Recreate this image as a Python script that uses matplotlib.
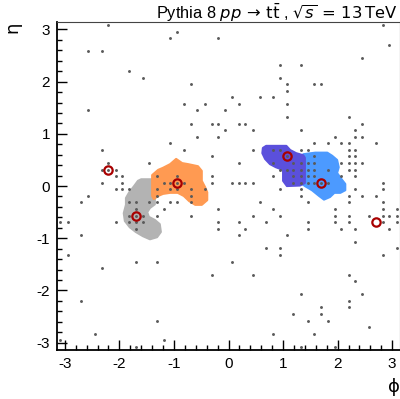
import matplotlib
matplotlib.use("Agg")
import matplotlib.pyplot as plt
from matplotlib.patches import Polygon
from matplotlib.ticker import MultipleLocator

plt.rcParams["font.family"] = ["Liberation Sans", "DejaVu Sans"]
plt.rcParams["axes.unicode_minus"] = False
plt.rcParams["mathtext.fontset"] = "dejavusans"

# particles (phi, eta), grouped by eta row
particle_phi = [
    -2.20, 2.83,
    -0.94,
    -1.07, -0.19,
    2.95,
    -2.58, -2.32,
    2.45,
    0.94, 1.32,
    -1.82,
    -1.57, 0.94,
    -0.69, 1.07, 1.57, 1.70,
    1.07,
    0.06, 0.57, 0.82,
    -0.82, -0.44, 0.19, 1.07,
    -2.58, -0.57, -0.06,
    1.07, 2.20,
    -0.69, -0.31, -0.19, 0.19, 0.31, 2.45,
    -0.06, 0.44, 1.32, 2.32,
    -0.57, -0.19, 1.95, 2.32, 2.45,
    -1.07, 1.57, 1.82, 2.07, 2.20, 2.70,
    -2.32, -0.82, 0.44, 0.82, 0.94, 1.32, 1.45, 2.20, 2.32,
    -0.31, 1.07, 1.57, 2.20, 2.32,
    -2.20, -1.45, 0.19, 0.82, 1.19, 1.32, 1.45, 1.57, 2.07, 2.20, 2.32, 2.45,
    -2.32, -2.20, -2.07, 0.94, 1.07, 1.19, 1.32, 1.45, 1.57, 1.82, 2.20, 2.32,
    -2.07, -1.95, -1.32, -0.94, -0.31, 0.82, 1.19, 1.32, 1.45, 1.57, 2.07, 2.32,
    -2.32, -1.95, -1.19, -1.07, -0.94, -0.82, -0.31, 0.06, 0.19, 0.31, 0.44,
    1.19, 1.32, 1.45, 1.57, 1.70, 1.82, 2.83,
    -2.07, -1.95, -1.82, -1.32, -1.07, -0.94, -0.69, -0.44, 0.94, 1.32, 2.32, 2.83,
    -2.58, -1.32, -0.69, 1.32, 2.20, 2.45, 2.70,
    -2.70, -1.82, -1.70, -1.45, -1.32, -1.07, -0.94, -0.69, 0.57, 1.45, 2.20, 2.83,
    -1.70, -1.19, -0.19, 0.82, 1.95, 2.83, 3.08,
    -1.82, -1.70, -1.57, -1.32, -0.69, 0.44, 0.94, 1.95, 2.20, 2.58, 2.83, 2.95, 3.08,
    -3.08, -2.95, -2.07, -1.82, -1.70, -1.57, -0.19, 0.19, 0.69, 1.45, 1.95, 2.20, 2.83, 3.08,
    -1.70, -0.19, 0.31, 1.45, 2.07, 2.32, 2.95,
    -2.70, 0.19, 1.07,
    2.32,
    0.69, 0.94, 3.08,
    -2.95, 0.94, 2.83,
    -1.70, -1.32, 0.06,
    -2.32,
    -0.31, 0.44, 2.20,
    2.32,
    1.32, 2.45,
    -2.70, 2.20,
    1.70, 2.20,
    1.19, 1.70,
    -1.32, 1.45, 1.82,
    2.58,
    -2.45, 0.82, 1.57,
    -3.08, -1.19,
    -1.70, 1.32, 1.95,
]
particle_eta = [
    3.08, 3.08,
    2.95,
    2.83, 2.83,
    2.70,
    2.58, 2.58,
    2.45,
    2.32, 2.32,
    2.20,
    2.07, 2.07,
    1.95, 1.95, 1.95, 1.95,
    1.82,
    1.70, 1.70, 1.70,
    1.57, 1.57, 1.57, 1.57,
    1.45, 1.45, 1.45,
    1.32, 1.32,
    1.19, 1.19, 1.19, 1.19, 1.19, 1.19,
    1.07, 1.07, 1.07, 1.07,
    0.94, 0.94, 0.94, 0.94, 0.94,
    0.82, 0.82, 0.82, 0.82, 0.82, 0.82,
    0.69, 0.69, 0.69, 0.69, 0.69, 0.69, 0.69, 0.69, 0.69,
    0.57, 0.57, 0.57, 0.57, 0.57,
    0.44, 0.44, 0.44, 0.44, 0.44, 0.44, 0.44, 0.44, 0.44, 0.44, 0.44, 0.44,
    0.31, 0.31, 0.31, 0.31, 0.31, 0.31, 0.31, 0.31, 0.31, 0.31, 0.31, 0.31,
    0.19, 0.19, 0.19, 0.19, 0.19, 0.19, 0.19, 0.19, 0.19, 0.19, 0.19, 0.19,
    0.06, 0.06, 0.06, 0.06, 0.06, 0.06, 0.06, 0.06, 0.06, 0.06, 0.06,
    0.06, 0.06, 0.06, 0.06, 0.06, 0.06, 0.06,
    -0.06, -0.06, -0.06, -0.06, -0.06, -0.06, -0.06, -0.06, -0.06, -0.06, -0.06, -0.06,
    -0.19, -0.19, -0.19, -0.19, -0.19, -0.19, -0.19,
    -0.31, -0.31, -0.31, -0.31, -0.31, -0.31, -0.31, -0.31, -0.31, -0.31, -0.31, -0.31,
    -0.44, -0.44, -0.44, -0.44, -0.44, -0.44, -0.44,
    -0.57, -0.57, -0.57, -0.57, -0.57, -0.57, -0.57, -0.57, -0.57, -0.57, -0.57, -0.57, -0.57,
    -0.69, -0.69, -0.69, -0.69, -0.69, -0.69, -0.69, -0.69, -0.69, -0.69, -0.69, -0.69, -0.69, -0.69,
    -0.82, -0.82, -0.82, -0.82, -0.82, -0.82, -0.82,
    -0.94, -0.94, -0.94,
    -1.07,
    -1.19, -1.19, -1.19,
    -1.32, -1.32, -1.32,
    -1.45, -1.45, -1.45,
    -1.57,
    -1.70, -1.70, -1.70,
    -1.82,
    -2.07, -2.07,
    -2.20, -2.20,
    -2.32, -2.32,
    -2.45, -2.45,
    -2.58, -2.58, -2.58,
    -2.70,
    -2.83, -2.83, -2.83,
    -2.95, -2.95,
    -3.08, -3.08, -3.08,
]

# jet axes
jet_phi = [-2.20, -1.70, -0.94, 1.07, 1.70, 2.70]
jet_eta = [0.31, -0.57, 0.06, 0.57, 0.06, -0.69]

# jet catchment areas (boundary in phi, eta)
area_colors = ["#b3b3b3", "#ff9a52", "#4c9aff", "#5b50dc"]
area_phi = [
    [-1.60, -1.40, -1.40, -1.35, -1.35, -1.44, -1.49, -1.46, -1.35, -1.26, -1.24,
     -1.31, -1.44, -1.57, -1.70, -1.81, -1.90, -1.92, -1.88, -1.88, -1.82, -1.73, -1.66],
    [-1.40, -1.29, -1.20, -1.07, -0.96, -0.85, -0.74, -0.56, -0.49, -0.49, -0.43,
     -0.39, -0.39, -0.49, -0.61, -0.72, -0.82, -0.93, -1.07, -1.20, -1.29, -1.37, -1.40, -1.40],
    [1.37, 1.59, 1.81, 1.90, 1.99, 2.02, 1.99, 2.08, 2.14, 2.14, 2.05, 1.94,
     1.86, 1.75, 1.66, 1.53, 1.40, 1.35],
    [0.69, 1.06, 1.13, 1.24, 1.37, 1.40, 1.40, 1.31, 1.07, 1.00, 1.00, 0.87,
     0.76, 0.67, 0.62, 0.63],
]
area_eta = [
    [0.13, 0.13, -0.08, -0.21, -0.35, -0.42, -0.50, -0.59, -0.65, -0.73, -0.88,
     -0.98, -1.02, -0.96, -0.88, -0.79, -0.67, -0.52, -0.36, -0.23, -0.12, 0.00, 0.10],
    [0.21, 0.31, 0.35, 0.42, 0.52, 0.44, 0.42, 0.38, 0.29, 0.10, -0.02,
     -0.12, -0.27, -0.36, -0.36, -0.29, -0.19, -0.13, -0.13, -0.15, -0.19, -0.25, -0.19, 0.02],
    [0.61, 0.64, 0.64, 0.58, 0.50, 0.36, 0.25, 0.12, 0.04, -0.08, -0.13, -0.13,
     -0.21, -0.26, -0.19, -0.08, 0.00, 0.04],
    [0.77, 0.77, 0.69, 0.63, 0.59, 0.54, 0.06, 0.01, 0.00, 0.10, 0.31, 0.36,
     0.42, 0.52, 0.63, 0.73],
]

fig = plt.figure(figsize=(4.0, 3.99), dpi=100)
ax = fig.add_axes([0.1428, 0.1228, 0.857, 0.8218])

for phis, etas, col in zip(area_phi, area_eta, area_colors):
    ax.add_patch(Polygon(list(zip(phis, etas)), closed=True, facecolor=col,
                         edgecolor=col, linewidth=1.5, joinstyle="round", zorder=1))

ax.plot(particle_phi, particle_eta, "o", color="#5a5a5a", markersize=2.1,
        markeredgewidth=0, zorder=2)
ax.plot(jet_phi, jet_eta, "o", markerfacecolor="none", markeredgecolor="#a80000",
        markersize=6, markeredgewidth=1.6, zorder=3)

ax.set_xlim(-3.14159, 3.14159)
ax.set_ylim(-3.14159, 3.14159)
ax.xaxis.set_major_locator(MultipleLocator(1))
ax.yaxis.set_major_locator(MultipleLocator(1))
ax.xaxis.set_minor_locator(MultipleLocator(0.2))
ax.yaxis.set_minor_locator(MultipleLocator(0.2))
ax.tick_params(which="both", direction="in", top=False, right=False,
               labelsize=11, width=1.0, color="black")
ax.tick_params(which="major", length=7.5, pad=5)
ax.tick_params(which="minor", length=3.8)

for side in ["left", "bottom"]:
    ax.spines[side].set_linewidth(1.3)
for side in ["top", "right"]:
    ax.spines[side].set_linewidth(0.8)
    ax.spines[side].set_color("#444444")

fig.text(0.03, 0.945, "\u03b7", rotation=90, ha="center", va="top", fontsize=13,
         family=["DejaVu Sans"])
fig.text(0.985, 0.03, "\u03d5", ha="center", va="center", fontsize=13,
         family=["DejaVu Sans"])
fig.text(0.995, 0.952,
         r"Pythia 8 $pp\,\rightarrow\,\mathrm{t\bar{t}}$ , $\sqrt{s}\,=\,13\,\mathrm{TeV}$",
         ha="right", va="baseline", fontsize=11.8)

fig.savefig("out.png", dpi=100)
